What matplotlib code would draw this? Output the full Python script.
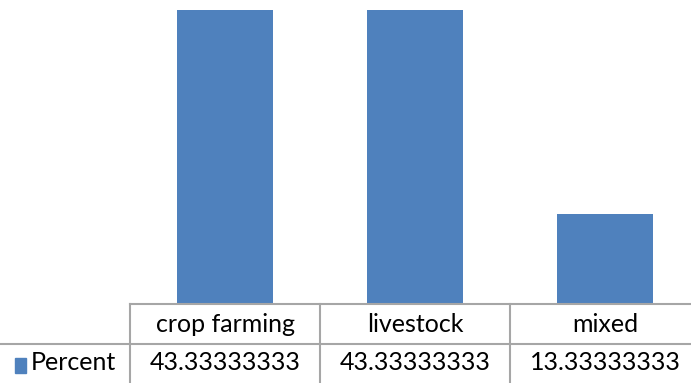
import matplotlib.pyplot as plt
from matplotlib.patches import Rectangle

categories = ["crop farming", "livestock", "mixed"]
values = [43.33333333, 43.33333333, 13.33333333]
value_labels = ["43.33333333", "43.33333333", "13.33333333"]
series_name = "Percent"

W, H = 691, 383
fig = plt.figure(figsize=(W / 100, H / 100), dpi=100)
color = "#4F81BD"
grid = "#A6A6A6"
font = "Lato"
fs = 18

# axes in pixel geometry: x 130..700, y 0..304 (from top)
ax = fig.add_axes([130 / W, 1 - 304 / H, 570 / W, 304 / H])
ax.bar(range(len(categories)), values, width=0.51, color=color)
ax.set_xlim(-0.5, len(categories) - 0.5)
ax.set_ylim(0, values[0] * 304 / 294)
ax.axis("off")

def fx(px):
    return px / W

def fy(py):
    return 1 - py / H

# table lines (figure coords)
lines = [
    ((130, 304), (700, 304)),
    ((0, 344), (700, 344)),
]
for xc in [130, 320, 510]:
    lines.append(((xc, 304), (xc, 390)))
for (x0, y0), (x1, y1) in lines:
    fig.add_artist(plt.Line2D([fx(x0), fx(x1)], [fy(y0), fy(y1)], color=grid, lw=1.5))

col_centers = [225, 415, 605]
for c, cat in zip(col_centers, categories):
    fig.text(fx(c), fy(324), cat, ha="center", va="center", fontsize=fs, family=font)
for c, lab in zip(col_centers, value_labels):
    fig.text(fx(c), fy(363), lab, ha="center", va="center", fontsize=fs, family=font)

fig.add_artist(Rectangle((fx(15), fy(373)), 11 / W, 15 / H, color=color, transform=fig.transFigure))
fig.text(fx(31), fy(363), series_name, ha="left", va="center", fontsize=fs, family=font)

fig.savefig("out.png", dpi=100)
